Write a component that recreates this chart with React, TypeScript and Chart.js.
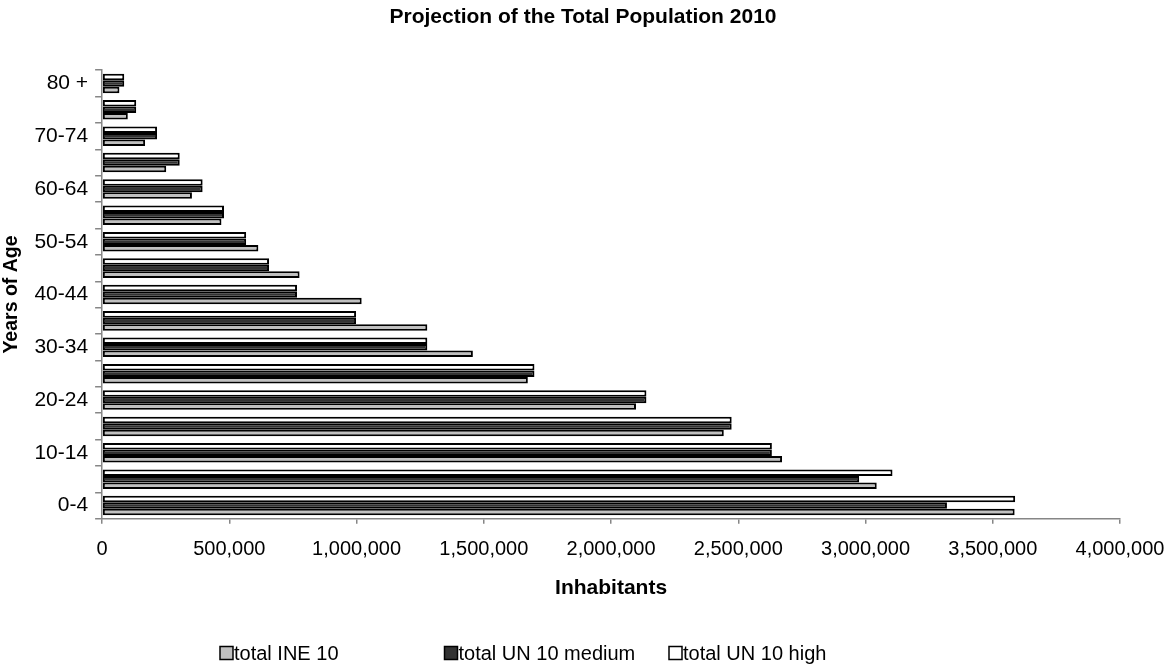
import React, { useEffect, useRef } from "react";
import { Chart, registerables } from "chart.js";

Chart.register(...registerables);

const ageGroups = [
  "0-4", "5-9", "10-14", "15-19", "20-24", "25-29", "30-34", "35-39", "40-44",
  "45-49", "50-54", "55-59", "60-64", "65-69", "70-74", "75-79", "80 +",
];

const totalINE10 = [
  3586000, 3044000, 2672000, 2443000, 2098000, 1673000, 1457000, 1278000, 1020000,
  776000, 614000, 469000, 353000, 252000, 169000, 101000, 68000,
];

const totalUN10Medium = [
  3320000, 2975000, 2632000, 2474000, 2139000, 1699000, 1278000, 998000, 766000,
  656000, 566000, 479000, 395000, 305000, 216000, 134000, 87000,
];

const totalUN10High = [
  3588000, 3106000, 2632000, 2474000, 2139000, 1699000, 1278000, 998000, 766000,
  656000, 566000, 479000, 395000, 305000, 216000, 134000, 87000,
];

const seriesNames = ["total INE 10", "total UN 10 medium", "total UN 10 high"];
const seriesColors = ["#c0c0c0", "#333333", "#ffffff"];

const FONT = '"Liberation Sans", Arial, sans-serif';

const legendPlugin = {
  id: "excelLegend",
  afterDraw(chart: any) {
    const ctx = chart.ctx;
    ctx.save();
    ctx.font = `20px ${FONT}`;
    ctx.textBaseline = "middle";
    ctx.textAlign = "left";
    const y = 653;
    const startX = 220;
    const colW = 224.5;
    const box = 13;
    seriesNames.forEach((name, i) => {
      const x = startX + i * colW;
      ctx.fillStyle = seriesColors[i];
      ctx.fillRect(x, y - box / 2, box, box);
      ctx.lineWidth = 1.5;
      ctx.strokeStyle = "#000";
      ctx.strokeRect(x, y - box / 2, box, box);
      ctx.fillStyle = "#000";
      ctx.fillText(name, x + box + 1, y + 1);
    });
    ctx.restore();
  },
};

export default function App() {
  const ref = useRef<HTMLCanvasElement | null>(null);
  useEffect(() => {
    if (!ref.current) return;
    const base = {
      borderColor: "#000",
      borderWidth: 2,
      borderSkipped: false,
      categoryPercentage: 0.74,
      barPercentage: 1.0,
    };
    const chart = new Chart(ref.current, {
      type: "bar",
      data: {
        labels: ageGroups,
        // drawn top-to-bottom within each age group: high, medium, INE
        datasets: [
          { ...base, label: seriesNames[2], data: totalUN10High, backgroundColor: seriesColors[2] },
          { ...base, label: seriesNames[1], data: totalUN10Medium, backgroundColor: seriesColors[1] },
          { ...base, label: seriesNames[0], data: totalINE10, backgroundColor: seriesColors[0] },
        ],
      },
      plugins: [legendPlugin],
      options: {
        indexAxis: "y",
        animation: false,
        responsive: false,
        maintainAspectRatio: false,
        layout: { padding: { left: 0, right: 0, top: 0, bottom: 67 } },
        plugins: {
          legend: { display: false },
          tooltip: { enabled: false },
          title: {
            display: true,
            text: "Projection of the Total Population 2010",
            color: "#000",
            font: { family: FONT, size: 21, weight: "bold" },
            padding: { top: 5, bottom: 40 },
          },
        },
        scales: {
          x: {
            type: "linear",
            min: 0,
            max: 4000000,
            afterFit: (s: any) => {
              s.paddingRight = 46;
            },
            ticks: {
              stepSize: 500000,
              color: "#000",
              font: { family: FONT, size: 20 },
              padding: 14,
              maxRotation: 0,
              callback: (v: any) => Number(v).toLocaleString("en-US"),
            },
            grid: {
              drawOnChartArea: false,
              drawTicks: true,
              tickLength: 5,
              color: "#868686",
              lineWidth: 1.5,
            },
            border: { display: true, color: "#868686", width: 1.5 },
            title: {
              display: true,
              text: "Inhabitants",
              color: "#000",
              font: { family: FONT, size: 21, weight: "bold" },
              padding: { top: 0, bottom: 0 },
            },
          },
          y: {
            type: "category",
            reverse: true,
            ticks: {
              autoSkip: false,
              color: "#000",
              font: { family: FONT, size: 21 },
              padding: 7,
              callback: (_v: any, i: number) => (i % 2 === 0 ? ageGroups[i] : ""),
            },
            grid: {
              offset: true,
              drawOnChartArea: false,
              drawTicks: true,
              tickLength: 7,
              color: "#868686",
              lineWidth: 1.5,
            },
            border: { display: true, color: "#868686", width: 1.5 },
            title: {
              display: true,
              text: "Years of Age",
              color: "#000",
              font: { family: FONT, size: 19.5, weight: "bold" },
              padding: { top: 0, bottom: 4 },
            },
          },
        },
      },
    } as any);
    return () => chart.destroy();
  }, []);

  return (
    <div style={{ position: "fixed", left: 0, top: 0, width: 1166, height: 668, background: "#fff" }}>
      <canvas ref={ref} width={1166} height={668} style={{ width: 1166, height: 668, display: "block" }} />
    </div>
  );
}
